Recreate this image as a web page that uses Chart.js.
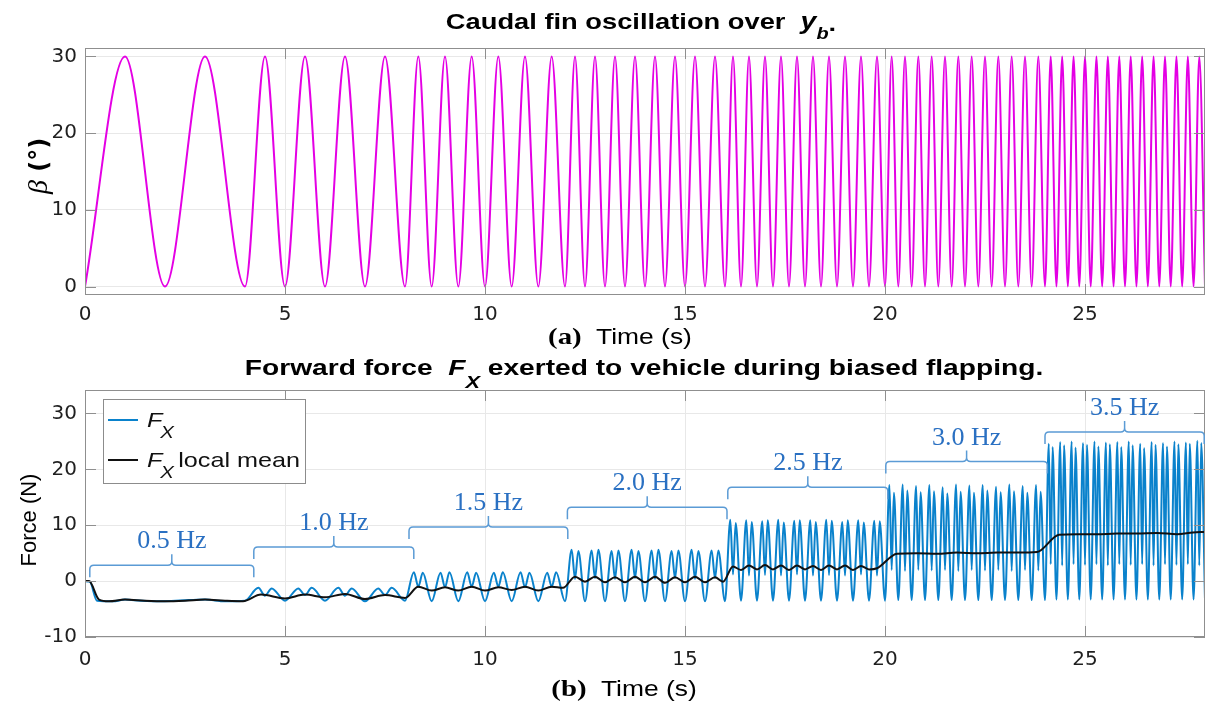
<!DOCTYPE html>
<html>
<head>
<meta charset="utf-8">
<script src="https://cdn.jsdelivr.net/npm/chart.js@4.4.0/dist/chart.umd.min.js"></script>
<style>
  html, body { margin: 0; padding: 0; background: #fff; }
  #wrap { position: relative; width: 1208px; height: 704px; }
  .box { position: absolute; left: 0; }
  #topBox { top: 0; }
  #botBox { top: 350px; }
</style>
</head>
<body>
<div id="wrap">
  <div class="box" id="topBox"><canvas id="betaChart" width="1208" height="350"></canvas></div>
  <div class="box" id="botBox"><canvas id="forceChart" width="1208" height="354"></canvas></div>
</div>
<script>
// ---- (a) caudal fin angle: times of crests (30 deg) and troughs (0 deg) ----
const betaMax = 30;
const betaMin = 0;
const betaPeakT = [
  1, 3,
  4.5, 5.5, 6.5, 7.5,
  8.333, 9, 9.667, 10.333, 11, 11.667,
  12.25, 12.75, 13.25, 13.75, 14.25, 14.75, 15.25, 15.75,
  16.2, 16.6, 17, 17.4, 17.8, 18.2, 18.6, 19, 19.4, 19.8,
  20.167, 20.5, 20.833, 21.167, 21.5, 21.833, 22.167, 22.5, 22.833, 23.167, 23.5, 23.833,
  24.143, 24.429, 24.714, 25, 25.286, 25.571, 25.857, 26.143, 26.429, 26.714, 27, 27.286, 27.571, 27.857
];
const betaTroughT = [
  0, 2, 4,
  5, 6, 7, 8,
  8.667, 9.333, 10, 10.667, 11.333, 12,
  12.5, 13, 13.5, 14, 14.5, 15, 15.5, 16,
  16.4, 16.8, 17.2, 17.6, 18, 18.4, 18.8, 19.2, 19.6, 20,
  20.333, 20.667, 21, 21.333, 21.667, 22, 22.333, 22.667, 23, 23.333, 23.667, 24,
  24.286, 24.571, 24.857, 25.143, 25.429, 25.714, 26, 26.286, 26.571, 26.857, 27.143, 27.429, 27.714, 28
];

// ---- (b) forward force F_X (N), one row per flapping cycle ----
const forceT = [
  0, 0.12, 0.3, 0.7, 1.0, 1.4, 2.0, 2.6, 3.0, 3.5, 4.0,
  4.333, 4.5, 4.667, 5,   5.333, 5.5, 5.667, 6,   6.333, 6.5, 6.667, 7,   7.333, 7.5, 7.667, 8,
  8.222, 8.333, 8.444, 8.667,   8.889, 9, 9.111, 9.333,   9.556, 9.667, 9.778, 10,
  10.222, 10.333, 10.444, 10.667,   10.889, 11, 11.111, 11.333,   11.556, 11.667, 11.778, 12,
  12.167, 12.25, 12.333, 12.5,   12.667, 12.75, 12.833, 13,   13.167, 13.25, 13.333, 13.5,
  13.667, 13.75, 13.833, 14,   14.167, 14.25, 14.333, 14.5,   14.667, 14.75, 14.833, 15,
  15.167, 15.25, 15.333, 15.5,   15.667, 15.75, 15.833, 16,
  16.133, 16.2, 16.267, 16.4,   16.533, 16.6, 16.667, 16.8,   16.933, 17, 17.067, 17.2,
  17.333, 17.4, 17.467, 17.6,   17.733, 17.8, 17.867, 18,   18.133, 18.2, 18.267, 18.4,
  18.533, 18.6, 18.667, 18.8,   18.933, 19, 19.067, 19.2,   19.333, 19.4, 19.467, 19.6,
  19.733, 19.8, 19.867, 20,
  20.111, 20.167, 20.222, 20.333,   20.444, 20.5, 20.556, 20.667,   20.778, 20.833, 20.889, 21,
  21.111, 21.167, 21.222, 21.333,   21.444, 21.5, 21.556, 21.667,   21.778, 21.833, 21.889, 22,
  22.111, 22.167, 22.222, 22.333,   22.444, 22.5, 22.556, 22.667,   22.778, 22.833, 22.889, 23,
  23.111, 23.167, 23.222, 23.333,   23.444, 23.5, 23.556, 23.667,   23.778, 23.833, 23.889, 24,
  24.095, 24.143, 24.19, 24.286,   24.381, 24.429, 24.476, 24.571,   24.667, 24.714, 24.762, 24.857,
  24.952, 25, 25.048, 25.143,   25.238, 25.286, 25.333, 25.429,   25.524, 25.571, 25.619, 25.714,
  25.81, 25.857, 25.905, 26,   26.095, 26.143, 26.19, 26.286,   26.381, 26.429, 26.476, 26.571,
  26.667, 26.714, 26.762, 26.857,   26.952, 27, 27.048, 27.143,   27.238, 27.286, 27.333, 27.429,
  27.524, 27.571, 27.619, 27.714,   27.81, 27.857, 27.905, 28
];
const forceN = [
  0, -0.1, -3.5, -3.6, -3.3, -3.5, -3.6, -3.4, -3.3, -3.6, -3.5,
  -1.2, -2.6, -1.3, -3.5,   -1.3, -2.5, -1.2, -3.5,   -1.2, -2.6, -1.3, -3.6,   -1.3, -2.5, -1.2, -3.5,
  1.6, -1.0, 1.5, -3.6,   1.5, -1.1, 1.6, -3.6,   1.6, -1.0, 1.5, -3.6,
  1.5, -1.0, 1.6, -3.6,   1.6, -1.1, 1.5, -3.6,   1.5, -1.0, 1.6, -3.6,
  5.6, 0.4, 5.4, -3.6,   5.5, 0.5, 5.6, -3.6,   5.4, 0.4, 5.5, -3.6,
  5.6, 0.5, 5.4, -3.6,   5.5, 0.4, 5.6, -3.6,   5.4, 0.5, 5.5, -3.6,
  5.6, 0.4, 5.4, -3.6,   5.5, 0.5, 5.5, -3.6,
  11.0, 1.2, 10.4, -3.5,   10.9, 1.0, 10.6, -3.5,   10.7, 1.1, 10.9, -3.5,
  11.0, 1.0, 10.5, -3.5,   10.8, 1.2, 10.9, -3.5,   10.9, 1.0, 10.6, -3.5,
  11.0, 1.1, 10.8, -3.5,   10.6, 1.0, 10.9, -3.5,   10.9, 1.2, 10.5, -3.5,
  10.8, 1.0, 10.7, -3.5,
  17.2, 2.0, 15.8, -3.4,   17.3, 1.8, 16.2, -3.4,   17.0, 2.0, 15.9, -3.4,
  17.2, 1.9, 16.1, -3.4,   16.8, 2.0, 15.7, -3.4,   17.3, 1.8, 16.0, -3.4,
  17.1, 2.0, 15.8, -3.4,   17.2, 1.9, 16.2, -3.4,   16.9, 2.0, 15.9, -3.4,
  17.3, 1.8, 16.1, -3.4,   17.0, 2.0, 15.8, -3.4,   17.2, 1.9, 16.0, -3.4,
  24.6, 3.0, 24.0, -3.3,   24.9, 2.8, 24.3, -3.3,   25.0, 3.0, 23.9, -3.3,
  24.7, 2.9, 24.4, -3.3,   25.0, 3.0, 24.1, -3.3,   24.8, 2.8, 24.5, -3.3,
  24.9, 3.0, 24.0, -3.3,   25.0, 2.9, 24.3, -3.3,   24.6, 3.0, 23.8, -3.3,
  24.9, 2.8, 24.4, -3.3,   24.7, 3.0, 24.1, -3.3,   25.0, 2.9, 24.5, -3.3,
  24.8, 3.0, 24.6, -3.3,   25.1, 2.8, 24.7, -3.3
];

// ---- F_X local mean (N) ----
const meanT = [
  0, 0.1, 0.35, 0.6, 1.0, 1.5, 2.0, 2.5, 3.0, 3.5, 3.95,
  4.4, 5.0, 5.5, 6.0, 6.5, 7.0, 7.5, 8.0,
  8.333, 8.667, 9, 9.333, 9.667, 10, 10.333, 10.667, 11, 11.333, 11.667, 11.95,
  12.25, 12.5, 12.75, 13, 13.25, 13.5, 13.75, 14, 14.25, 14.5, 14.75, 15, 15.25, 15.5, 15.75, 15.95,
  16.2, 16.4, 16.6, 16.8, 17, 17.2, 17.4, 17.6, 17.8, 18, 18.2, 18.4, 18.6, 18.8, 19, 19.2, 19.4, 19.6, 19.8,
  20.3, 20.8, 21.3, 21.8, 22.3, 22.8, 23.3, 23.8,
  24.35, 24.8, 25.3, 25.8, 26.3, 26.8, 27.3, 27.7, 28
];
const meanN = [
  0, 0, -3.3, -3.6, -3.3, -3.5, -3.6, -3.5, -3.3, -3.5, -3.6,
  -2.4, -3.1, -2.4, -2.9, -2.3, -3.2, -2.5, -3.0,
  -1.0, -1.7, -1.1, -1.7, -1.0, -1.7, -1.1, -1.6, -1.0, -1.7, -1.0, -1.2,
  0.8, -0.1, 0.8, -0.2, 0.7, -0.2, 0.8, -0.2, 0.8, -0.3, 0.7, -0.2, 0.8, -0.2, 0.7, -0.1,
  2.6, 2.0, 2.8, 2.1, 2.9, 2.1, 2.8, 2.0, 2.8, 2.1, 2.7, 2.0, 2.8, 2.1, 2.8, 2.0, 2.7, 2.1, 2.3,
  4.9, 5.0, 4.9, 5.1, 5.0, 5.1, 5.1, 5.2,
  8.3, 8.4, 8.4, 8.5, 8.5, 8.6, 8.4, 8.7, 8.8
];

// ---- flapping-frequency brackets ----
const bracketLabels = ['0.5 Hz', '1.0 Hz', '1.5 Hz', '2.0 Hz', '2.5 Hz', '3.0 Hz', '3.5 Hz'];
const bracketStart = [0.12, 4.22, 8.1, 12.06, 16.07, 20.02, 24.0];
const bracketEnd = [4.22, 8.22, 12.07, 16.05, 20.07, 24.06, 27.98];
const bracketLevel = [2.85, 6.1, 9.7, 13.2, 16.8, 21.4, 26.7];

const SANS = '"Liberation Sans", Arial, sans-serif';
const WIDE = '"DejaVu Sans", sans-serif';
const SERIF = '"Liberation Serif", "Times New Roman", serif';
const axisColor = '#8f8f8f';
const gridColor = '#e8e8e8';
const tickLen = 11;
const stretch = 1.2;   // the figure text is drawn a little wide

Chart.defaults.font.family = WIDE;
Chart.defaults.color = '#1f1f1f';

// text made of differently styled parts, centred on cx; sx stretches it sideways
function richText(ctx, parts, cx, baseY, sx) {
    sx = sx || 1;
    let total = 0;
    parts.forEach(p => {
        ctx.font = p.font;
        p.w = ctx.measureText(p.t).width + (p.gap || 0);
        total += p.w;
    });
    ctx.save();
    ctx.translate(cx, baseY);
    ctx.scale(sx, 1);
    let x = -total / 2;
    ctx.textAlign = 'left';
    ctx.textBaseline = 'alphabetic';
    parts.forEach(p => {
        ctx.font = p.font;
        ctx.fillStyle = p.color || '#000';
        ctx.fillText(p.t, x, p.dy || 0);
        x += p.w;
    });
    ctx.restore();
}

// MATLAB style box with inward ticks on every side
const framePlugin = {
    id: 'frame',
    afterDatasetsDraw(chart) {
        const {ctx, chartArea: a, scales: {x, y}} = chart;
        ctx.save();
        ctx.strokeStyle = axisColor;
        ctx.lineWidth = 1;
        ctx.strokeRect(a.left + 0.5, a.top + 0.5, a.right - a.left - 1, a.bottom - a.top - 1);
        ctx.beginPath();
        x.ticks.forEach(t => {
            const px = Math.round(x.getPixelForValue(t.value)) + 0.5;
            ctx.moveTo(px, a.bottom); ctx.lineTo(px, a.bottom - tickLen);
            ctx.moveTo(px, a.top); ctx.lineTo(px, a.top + tickLen);
        });
        y.ticks.forEach(t => {
            const py = Math.round(y.getPixelForValue(t.value)) + 0.5;
            ctx.moveTo(a.left, py); ctx.lineTo(a.left + tickLen, py);
            ctx.moveTo(a.right, py); ctx.lineTo(a.right - tickLen, py);
        });
        ctx.stroke();
        ctx.restore();
    }
};

// titles and axis labels (mixed fonts)
const labelPlugin = {
    id: 'labels',
    afterDraw(chart) {
        const ctx = chart.ctx;
        const L = chart.options.plugins.labels;
        ctx.save();
        richText(ctx, L.title, L.titleX, L.titleY, L.titleSx);
        richText(ctx, L.xTitle, L.xTitleX, L.xTitleY, stretch);
        ctx.translate(L.yTitleX, L.yTitleY);
        ctx.rotate(-Math.PI / 2);
        richText(ctx, L.yTitle, 0, 0);
        ctx.restore();
    }
};

// brackets with frequency labels
const bracketPlugin = {
    id: 'brackets',
    afterDatasetsDraw(chart) {
        const {ctx, scales: {x, y}} = chart;
        ctx.save();
        ctx.strokeStyle = '#5b9bd5';
        ctx.lineWidth = 1.5;
        bracketLabels.forEach((lab, i) => {
            const x0 = x.getPixelForValue(bracketStart[i]);
            const x1 = x.getPixelForValue(bracketEnd[i]);
            const xm = (x0 + x1) / 2;
            const yy = y.getPixelForValue(bracketLevel[i]);
            const r = 4;
            ctx.beginPath();
            ctx.moveTo(x0, yy + 12);
            ctx.lineTo(x0, yy + r);
            ctx.quadraticCurveTo(x0, yy, x0 + r, yy);
            ctx.lineTo(xm - r, yy);
            ctx.quadraticCurveTo(xm, yy, xm, yy - r);
            ctx.lineTo(xm, yy - 11);
            ctx.moveTo(xm, yy - r);
            ctx.quadraticCurveTo(xm, yy, xm + r, yy);
            ctx.lineTo(x1 - r, yy);
            ctx.quadraticCurveTo(x1, yy, x1, yy + r);
            ctx.lineTo(x1, yy + 12);
            ctx.stroke();
            ctx.font = '26px ' + SERIF;
            ctx.fillStyle = '#2a70c2';
            ctx.textAlign = 'center';
            ctx.textBaseline = 'alphabetic';
            ctx.fillText(lab, xm, yy - 17);
        });
        ctx.restore();
    }
};

// legend box inside the axes
const legendPlugin = {
    id: 'boxLegend',
    afterDatasetsDraw(chart) {
        const ctx = chart.ctx;
        const ds = chart.data.datasets;
        ctx.save();
        ctx.fillStyle = '#fff';
        ctx.fillRect(103, 49, 202, 84);
        ctx.strokeStyle = '#8c8c8c';
        ctx.lineWidth = 1;
        ctx.strokeRect(103.5, 49.5, 202, 84);
        const rows = [70, 110];
        ds.forEach((d, i) => {
            const yy = rows[i];
            ctx.strokeStyle = d.borderColor;
            ctx.lineWidth = 2;
            ctx.beginPath();
            ctx.moveTo(108, yy);
            ctx.lineTo(138, yy);
            ctx.stroke();
            ctx.save();
            ctx.translate(147, yy);
            ctx.scale(stretch, 1);
            ctx.fillStyle = '#111';
            ctx.textAlign = 'left';
            ctx.textBaseline = 'alphabetic';
            ctx.font = 'italic 21px ' + SANS;
            ctx.fillText('F', 0, 7);
            ctx.font = 'italic 17px ' + SANS;
            ctx.fillText('X', 11, 18);
            if (d.suffix) {
                ctx.font = '21px ' + SANS;
                ctx.fillText(d.suffix, 26, 7);
            }
            ctx.restore();
        });
        ctx.restore();
    }
};

function xScale(pad, h) {
    return {
        type: 'linear', min: 0, max: 28,
        grid: {color: gridColor, drawTicks: false},
        border: {display: false},
        ticks: {stepSize: 5, includeBounds: false, padding: pad, maxRotation: 0, font: {size: 20}, color: '#1f1f1f'},
        afterFit: s => { s.height = h; }
    };
}
function yScale(min, max) {
    return {
        min: min, max: max,
        grid: {color: gridColor, drawTicks: false},
        border: {display: false},
        ticks: {stepSize: 10, includeBounds: false, padding: 8, font: {size: 20}, color: '#1f1f1f'},
        afterFit: s => { s.width = 85; }
    };
}

const betaPoints = betaPeakT.map(t => ({x: t, y: betaMax}))
    .concat(betaTroughT.map(t => ({x: t, y: betaMin})))
    .sort((a, b) => a.x - b.x);

new Chart(document.getElementById('betaChart'), {
    type: 'line',
    data: {
        datasets: [{
            label: 'beta',
            data: betaPoints,
            borderColor: 'rgb(228,0,228)',
            borderWidth: 2,
            pointRadius: 0,
            cubicInterpolationMode: 'monotone'
        }]
    },
    options: {
        responsive: false,
        animation: false,
        layout: {padding: {top: 48, right: 3, left: 0, bottom: 0}},
        scales: {x: xScale(8, 55), y: yScale(-1.1, 31.1)},
        plugins: {
            legend: {display: false},
            tooltip: {enabled: false},
            labels: {
                title: [
                    {t: 'Caudal fin oscillation over  ', font: 'bold 22px ' + SANS},
                    {t: 'y', font: 'italic bold 23px ' + SANS},
                    {t: 'b', font: 'italic bold 16px ' + SANS, dy: 10},
                    {t: '.', font: 'bold 22px ' + SANS, dy: 2}
                ],
                titleX: 641, titleY: 29, titleSx: 1.24,
                xTitle: [
                    {t: '(a)', font: 'bold 24px ' + SERIF, gap: 12},
                    {t: 'Time (s)', font: '22px ' + SANS}
                ],
                xTitleX: 620, xTitleY: 344,
                yTitle: [
                    {t: '\u03b2', font: 'italic 28px ' + SERIF},
                    {t: ' (\u00b0)', font: 'bold 24px ' + WIDE}
                ],
                yTitleX: 47, yTitleY: 166
            }
        }
    },
    plugins: [framePlugin, labelPlugin]
});

new Chart(document.getElementById('forceChart'), {
    type: 'line',
    data: {
        datasets: [{
            label: 'F_X',
            data: forceT.map((t, i) => ({x: t, y: forceN[i]})),
            borderColor: 'rgb(10,130,204)',
            borderWidth: 2,
            pointRadius: 0,
            cubicInterpolationMode: 'monotone',
            order: 2
        }, {
            label: 'F_X local mean',
            suffix: 'local mean',
            data: meanT.map((t, i) => ({x: t, y: meanN[i]})),
            borderColor: '#111111',
            borderWidth: 2,
            pointRadius: 0,
            cubicInterpolationMode: 'monotone',
            order: 1
        }]
    },
    options: {
        responsive: false,
        animation: false,
        layout: {padding: {top: 40, right: 3, left: 0, bottom: 0}},
        scales: {x: xScale(11, 67), y: yScale(-10, 34.2)},
        plugins: {
            legend: {display: false},
            tooltip: {enabled: false},
            labels: {
                title: [
                    {t: 'Forward force  ', font: 'bold 22px ' + SANS},
                    {t: 'F', font: 'italic bold 22px ' + SANS},
                    {t: 'X', font: 'italic bold 17px ' + SANS, dy: 13},
                    {t: ' exerted to vehicle during biased flapping.', font: 'bold 22px ' + SANS}
                ],
                titleX: 644, titleY: 25, titleSx: 1.28,
                xTitle: [
                    {t: '(b)', font: 'bold 24px ' + SERIF, gap: 12},
                    {t: 'Time (s)', font: '22px ' + SANS}
                ],
                xTitleX: 624, xTitleY: 346,
                yTitle: [
                    {t: 'Force (N)', font: '22px ' + SANS}
                ],
                yTitleX: 36, yTitleY: 170
            }
        }
    },
    plugins: [framePlugin, bracketPlugin, legendPlugin, labelPlugin]
});
</script>
</body>
</html>
